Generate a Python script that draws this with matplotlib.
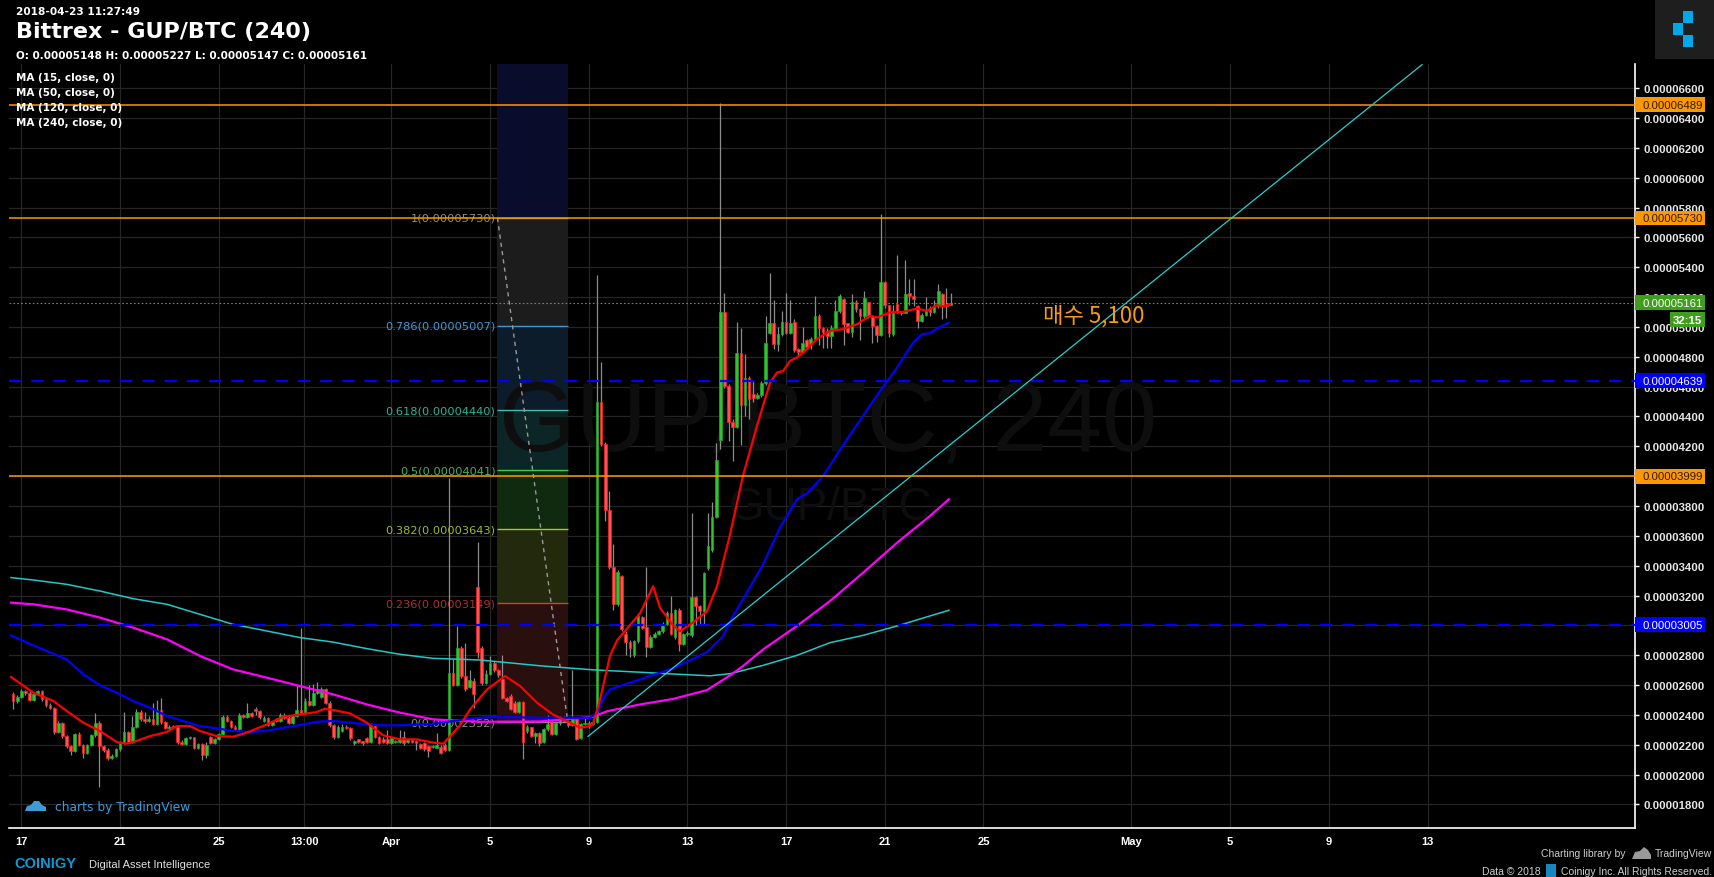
import numpy as np
import matplotlib
matplotlib.use("Agg")
import matplotlib.pyplot as plt
from matplotlib.patches import Rectangle, Polygon
from matplotlib.ticker import FuncFormatter

W, H = 1715, 878

# ---- data: prices in satoshi, time in days after Mar 17 00:00, 4h candles ----
first_candle = -1 / 3

opens = [2542, 2493, 2520, 2558, 2550, 2502, 2538, 2558, 2504, 2469,
         2448, 2288, 2348, 2258, 2191, 2158, 2270, 2200, 2147, 2196,
         2263, 2348, 2191, 2165, 2113, 2124, 2169, 2214, 2287, 2218,
         2321, 2422, 2370, 2359, 2375, 2337, 2433, 2352, 2314, 2320,
         2319, 2218, 2203, 2247, 2250, 2180, 2203, 2129, 2254, 2214,
         2236, 2270, 2388, 2359, 2321, 2303, 2397, 2388, 2410, 2442,
         2426, 2360, 2379, 2332, 2372, 2359, 2401, 2381, 2348, 2392,
         2433, 2415, 2495, 2469, 2549, 2522, 2571, 2482, 2334, 2254,
         2290, 2321, 2312, 2210, 2236, 2222, 2245, 2218, 2326, 2252,
         2240, 2240, 2214, 2218, 2218, 2252, 2218, 2236, 2225, 2207,
         2209, 2191, 2186, 2180, 2187, 2200, 2165, 2683, 2603, 2851,
         2661, 2587, 2629, 3255, 2850, 2616, 2672, 2750, 2700, 2643,
         2515, 2527, 2482, 2419, 2488, 2290, 2316, 2258, 2276, 2218,
         2303, 2354, 2272, 2343, 2388, 2357, 2330, 2370, 2248, 2336,
         2345, 2340, 2352, 4494, 4218, 3775, 3392, 3140, 3332, 2945,
         2889, 2800, 2894, 3055, 2990, 2853, 2925, 2944, 2961, 3009,
         3081, 2920, 3105, 2877, 2940, 2935, 3189, 3128, 3093, 3385,
         3505, 3729, 4242, 5100, 4606, 4363, 4332, 4828, 4475, 4661,
         4549, 4526, 4542, 4623, 4962, 5025, 4884, 4951, 5036, 4962,
         5036, 4851, 4833, 4911, 4884, 4918, 5074, 4996, 4975, 4940,
         4996, 5108, 5186, 5023, 4967, 5164, 5123, 5070, 5164, 5074,
         5003, 4947, 5298, 5146, 4951, 5152, 5103, 5096, 5230, 5204,
         5142, 5041, 5079, 5130, 5101, 5141, 5218, 5148, 5148]

highs = [2553, 2535, 2575, 2565, 2560, 2550, 2570, 2565, 2510, 2480,
         2455, 2360, 2355, 2265, 2200, 2280, 2285, 2205, 2205, 2275,
         2415, 2360, 2200, 2175, 2140, 2180, 2225, 2420, 2295, 2395,
         2440, 2430, 2420, 2390, 2480, 2500, 2513, 2360, 2330, 2335,
         2325, 2230, 2255, 2260, 2255, 2210, 2210, 2215, 2260, 2245,
         2280, 2400, 2400, 2365, 2330, 2410, 2405, 2480, 2420, 2450,
         2430, 2395, 2385, 2360, 2380, 2410, 2410, 2390, 2400, 2598,
         2980, 2510, 2600, 2610, 2620, 2590, 2580, 2490, 2340, 2330,
         2340, 2335, 2318, 2232, 2240, 2228, 2250, 2345, 2340, 2260,
         2250, 2300, 2255, 2232, 2300, 2290, 2245, 2242, 2230, 2212,
         2215, 2195, 2200, 2280, 2195, 2210, 3990, 2773, 2996, 2860,
         2884, 2700, 2650, 3560, 2860, 2700, 2795, 2760, 2710, 2800,
         2520, 2540, 2490, 2495, 2495, 2330, 2320, 2285, 2285, 2310,
         2400, 2360, 2350, 2395, 2395, 2365, 2700, 2375, 2345, 2380,
         2360, 2370, 5347, 4764, 4230, 3900, 3548, 3370, 3340, 2960,
         2900, 2905, 3080, 3065, 3390, 2935, 2955, 2970, 3020, 3095,
         3200, 3110, 3115, 2950, 2960, 3751, 3200, 3135, 3355, 3750,
         3830, 4220, 6500, 5230, 4620, 4380, 5030, 4990, 4820, 4670,
         4640, 4560, 4640, 5070, 5360, 5180, 5000, 5110, 5230, 5180,
         5050, 4860, 5000, 4920, 4930, 5205, 5085, 5000, 4990, 5010,
         5180, 5220, 5195, 5028, 5220, 5180, 5130, 5240, 5170, 5080,
         5010, 5760, 5305, 5150, 5150, 5480, 5110, 5450, 5320, 5320,
         5150, 5090, 5200, 5140, 5180, 5290, 5230, 5260, 5227]

lows = [2437, 2480, 2510, 2530, 2490, 2495, 2530, 2495, 2455, 2440,
        2275, 2280, 2245, 2180, 2130, 2150, 2190, 2110, 2140, 2190,
        2255, 1915, 2150, 2100, 2105, 2115, 2160, 2205, 2210, 2210,
        2315, 2360, 2345, 2350, 2330, 2330, 2340, 2305, 2300, 2310,
        2205, 2195, 2195, 2240, 2170, 2172, 2100, 2110, 2205, 2208,
        2230, 2265, 2350, 2310, 2295, 2295, 2380, 2380, 2385, 2400,
        2375, 2350, 2325, 2325, 2350, 2350, 2375, 2340, 2340, 2385,
        2405, 2405, 2460, 2460, 2540, 2515, 2475, 2320, 2240, 2245,
        2285, 2305, 2235, 2195, 2210, 2200, 2210, 2210, 2245, 2205,
        2210, 2205, 2205, 2210, 2210, 2200, 2210, 2212, 2165, 2170,
        2160, 2120, 2180, 2175, 2140, 2158, 2160, 2595, 2595, 2650,
        2560, 2580, 2448, 2780, 2600, 2610, 2665, 2690, 2655, 2505,
        2485, 2430, 2410, 2412, 2102, 2280, 2250, 2210, 2190, 2210,
        2295, 2265, 2265, 2335, 2350, 2320, 2325, 2230, 2240, 2330,
        2310, 2335, 2345, 4200, 3700, 3380, 3100, 3130, 2960, 2800,
        2790, 2790, 2880, 2975, 2790, 2845, 2915, 2935, 2950, 3000,
        2935, 2910, 2830, 2870, 2930, 2925, 3000, 3000, 3000, 3370,
        3490, 3720, 4180, 4590, 4236, 4100, 4320, 4210, 4400, 4380,
        4500, 4515, 4530, 4610, 4950, 4850, 4840, 4940, 4950, 4950,
        4830, 4810, 4825, 4850, 4850, 4905, 4880, 4860, 4860, 4860,
        4985, 5095, 4880, 4960, 4930, 5100, 4910, 5060, 5060, 4890,
        4900, 4940, 5130, 4930, 4940, 5095, 5080, 5090, 5150, 5140,
        4990, 5030, 5070, 5070, 5090, 5130, 5050, 5060, 5147]

closes = [2493, 2520, 2558, 2550, 2502, 2538, 2558, 2504, 2469, 2448,
          2288, 2348, 2258, 2191, 2158, 2270, 2200, 2147, 2196, 2263,
          2348, 2191, 2165, 2113, 2124, 2169, 2214, 2287, 2218, 2321,
          2422, 2370, 2359, 2375, 2337, 2433, 2352, 2314, 2320, 2319,
          2218, 2203, 2247, 2250, 2180, 2203, 2129, 2200, 2214, 2236,
          2270, 2388, 2359, 2321, 2303, 2397, 2388, 2410, 2393, 2426,
          2388, 2379, 2332, 2352, 2359, 2401, 2381, 2348, 2392, 2433,
          2415, 2495, 2469, 2549, 2576, 2571, 2482, 2334, 2254, 2321,
          2321, 2312, 2243, 2225, 2218, 2214, 2218, 2332, 2252, 2214,
          2218, 2214, 2247, 2225, 2240, 2212, 2236, 2220, 2214, 2180,
          2173, 2158, 2191, 2200, 2147, 2165, 2683, 2603, 2851, 2661,
          2576, 2636, 2540, 2821, 2616, 2672, 2750, 2700, 2665, 2515,
          2493, 2437, 2419, 2488, 2220, 2316, 2258, 2276, 2213, 2303,
          2336, 2272, 2343, 2388, 2357, 2330, 2370, 2240, 2336, 2345,
          2340, 2352, 4494, 4218, 3775, 3392, 3140, 3356, 2978, 2889,
          2848, 2894, 3064, 2985, 2853, 2925, 2944, 2961, 3009, 3081,
          2944, 3105, 2877, 2940, 2945, 3189, 3128, 3093, 3349, 3531,
          3727, 4106, 5100, 4606, 4362, 4332, 4828, 4475, 4661, 4520,
          4526, 4542, 4623, 4895, 5025, 4884, 4951, 5036, 4962, 5025,
          4846, 4833, 4889, 4866, 4918, 5074, 4996, 4967, 4940, 4996,
          5108, 5208, 5018, 4967, 5164, 5123, 5070, 5197, 5074, 5003,
          4947, 5298, 5146, 4958, 5108, 5103, 5096, 5219, 5204, 5190,
          5041, 5079, 5105, 5101, 5141, 5240, 5141, 5137, 5161]

# moving averages (day, price)
ma15_x = [-0.42, 0.49, 1.30, 1.84, 2.51, 3.19, 3.87, 4.27, 4.54, 5.22, 5.89, 6.30,
          6.84, 7.24, 7.92, 8.59, 9.14, 9.95, 10.62, 11.30, 11.97, 12.31, 12.65,
          13.32, 14.00, 14.67, 15.35, 16.03, 16.71, 17.11, 17.78, 18.19, 18.88,
          19.61, 20.22, 20.90, 21.55, 22.24, 22.65, 23.05, 23.17, 23.46, 23.86,
          24.15, 25.08, 25.61, 25.89, 26.42, 26.70, 27.23, 27.79, 28.20, 28.73,
          29.25, 29.82, 30.35, 30.63, 30.88, 31.16, 31.44, 31.69, 32.25, 32.78,
          33.31, 33.87, 34.40, 34.69, 35.21, 35.74, 36.31, 36.71, 37.12, 37.36, 37.64]
ma15_y = [2654, 2549, 2493, 2426, 2348, 2292, 2218, 2207, 2218, 2258, 2285, 2325,
          2325, 2292, 2258, 2254, 2281, 2336, 2388, 2403, 2419, 2442, 2432,
          2410, 2348, 2263, 2236, 2236, 2214, 2207, 2330, 2437, 2571,
          2660, 2593, 2482, 2403, 2348, 2314, 2325, 2336, 2504, 2795,
          2900, 3081, 3262, 3117, 3000, 2960, 3020, 3094, 3262, 3610,
          4001, 4337, 4627, 4694, 4705, 4772, 4795, 4828, 4918, 4974,
          4985, 5018, 5074, 5063, 5097, 5101, 5123, 5108, 5146, 5137, 5152]

ma50_x = [-0.42, 0.49, 1.84, 2.51, 3.19, 3.87, 4.53, 5.22, 5.91, 6.55, 7.24, 7.93,
          8.58, 9.27, 9.96, 10.61, 11.30, 11.99, 12.63, 13.32, 14.01, 14.66, 15.35,
          16.69, 18.19, 19.00, 19.81, 20.90, 22.24, 23.05, 23.34, 23.58, 23.86,
          25.08, 26.42, 27.79, 28.44, 28.73, 29.41, 30.07, 30.75, 31.44, 31.89,
          32.50, 33.47, 34.12, 34.81, 35.50, 36.15, 36.51, 36.83, 37.12, 37.60]
ma50_y = [2933, 2866, 2772, 2672, 2598, 2549, 2493, 2448, 2392, 2359, 2325, 2310,
          2292, 2285, 2294, 2314, 2332, 2354, 2359, 2348, 2336, 2330, 2330,
          2340, 2375, 2385, 2385, 2381, 2381, 2381, 2415, 2504, 2571,
          2638, 2712, 2820, 2926, 3029, 3219, 3409, 3655, 3845, 3890,
          4001, 4247, 4404, 4571, 4728, 4895, 4951, 4958, 4989, 5029]

ma120_x = [-0.42, 0.49, 1.84, 3.19, 4.53, 5.91, 7.24, 8.58, 9.96, 11.30, 12.63,
           14.01, 15.35, 16.69, 18.59, 21.03, 23.17, 23.74, 25.08, 26.42, 27.79,
           28.73, 29.25, 30.07, 31.44, 32.78, 34.12, 35.50, 36.83, 37.60]
ma120_y = [3152, 3141, 3107, 3052, 2985, 2906, 2795, 2705, 2649, 2593, 2538,
           2470, 2415, 2370, 2354, 2356, 2387, 2424, 2470, 2507, 2566,
           2665, 2727, 2839, 2996, 3163, 3353, 3554, 3733, 3845]

ma240_x = [-0.42, 0.49, 1.84, 3.19, 4.53, 5.91, 7.24, 8.58, 9.96, 11.30, 12.63,
           14.01, 15.35, 16.69, 18.59, 21.03, 23.17, 25.08, 26.42, 27.92, 28.73,
           30.07, 31.44, 32.78, 34.12, 35.50, 36.83, 37.60]
ma240_y = [3320, 3304, 3275, 3230, 3179, 3141, 3074, 3007, 2962, 2918, 2888,
           2844, 2806, 2779, 2768, 2729, 2702, 2686, 2674, 2662, 2676,
           2732, 2799, 2884, 2933, 2996, 3063, 3101]

fib_names = ['1', '0.786', '0.618', '0.5', '0.382', '0.236', '0']
fib_prices = [5730, 5007, 4440, 4041, 3643, 3149, 2352]
fib_line_colors = ['#8a8a8a', '#3d9ad6', '#3cc0ae', '#3ecf3e', '#a8c828', '#d23c3c', '#8a8a8a']
fib_text_colors = ['#8c8c8c', '#3d9ad6', '#2eb398', '#4caf50', '#a3b82a', '#a83232', '#8c8c8c']
fib_band_colors = ['#1c1c1c', '#0c1c2a', '#0c2526', '#102a10', '#23290c', '#2a0f0f']
fib_top_color = '#0a0c2c'
fib_start, fib_end = 19.30, 22.15

orange_levels = [6489, 5730, 3999]
blue_levels = [4639, 3005]
last_price = closes[-1]

trend_x = [22.97, 56.78]
trend_y = [2256, 6758]

xtick_pos = [0, 4, 8, 11.47, 15, 19, 23, 27, 31, 35, 39, 45, 49, 53, 57]
xtick_lab = ['17', '21', '25', '13:00', 'Apr', '5', '9', '13', '17', '21', '25',
             'May', '5', '9', '13']
ytick_vals = list(range(1800, 6601, 200))


def fx(px):
    return px / W


def fy(py):
    return 1 - py / H


fig = plt.figure(figsize=(W / 100, H / 100), dpi=100, facecolor='black')
ax = fig.add_axes([fx(9), fy(829), 1626 / W, 764 / H], facecolor='black')
ax.set_xlim(-0.5, 65.41)
ax.set_ylim(1642, 6762)
ytop = 6762

# grid + axes
ax.set_xticks(xtick_pos)
ax.set_xticklabels(xtick_lab)
ax.set_yticks(ytick_vals)
ax.yaxis.tick_right()
ax.yaxis.set_major_formatter(FuncFormatter(lambda v, p: f'{v / 1e8:.8f}'))
ax.grid(True, color='#262626', lw=0.9)
ax.set_axisbelow(True)
for s in ['left', 'top']:
    ax.spines[s].set_visible(False)
for s in ['right', 'bottom']:
    ax.spines[s].set_color('white')
    ax.spines[s].set_linewidth(1.2)
ax.tick_params(axis='y', colors='white', length=3, width=1, pad=3)
ax.tick_params(axis='x', colors='white', length=0, pad=6)
for lbl in ax.get_yticklabels():
    lbl.set_fontfamily('Liberation Sans')
    lbl.set_fontweight('bold')
    lbl.set_fontsize(8.2)
    lbl.set_color('#e6e6e6')
for lbl in ax.get_xticklabels():
    lbl.set_fontfamily('Liberation Sans')
    lbl.set_fontweight('bold')
    lbl.set_fontsize(8)

# fib retracement
ax.add_patch(Rectangle((fib_start, fib_prices[0]), fib_end - fib_start, ytop - fib_prices[0],
                       facecolor=fib_top_color, edgecolor='none', zorder=1))
for k in range(len(fib_prices) - 1):
    hi, lo = fib_prices[k], fib_prices[k + 1]
    ax.add_patch(Rectangle((fib_start, lo), fib_end - fib_start, hi - lo,
                           facecolor=fib_band_colors[k], edgecolor='none', zorder=1))
for name, p, lc, tc in zip(fib_names, fib_prices, fib_line_colors, fib_text_colors):
    ax.hlines(p, fib_start, fib_end, color=lc, lw=1, zorder=3)
    ax.text(fib_start - 0.08, p, f'{name}({p / 1e8:.8f})', color=tc, fontsize=8.2,
            ha='right', va='center', zorder=3)
ax.plot([fib_start, fib_end], [fib_prices[0], fib_prices[-1]], color='#9a9a9a',
        lw=1, ls=(0, (3, 3)), zorder=3)

# watermark
ax.text(0.5037, 0.496, 'GUP/BTC, 240', transform=ax.transAxes, fontsize=71,
        family='Liberation Sans', color='#0e0e0e', ha='center', va='baseline', zorder=1.5)
ax.text(0.505, 0.4045, 'GUP/BTC', transform=ax.transAxes, fontsize=33,
        family='Liberation Sans', color='#0e0e0e', ha='center', va='baseline', zorder=1.5)

# candles
n = len(closes)
xs = first_candle + np.arange(n) / 6
o = np.array(opens)
c = np.array(closes)
up = c >= o
ax.vlines(xs, lows, highs, color='#8c8c8c', lw=0.9, zorder=4)
body_lo = np.minimum(o, c)
body_h = np.maximum(np.abs(c - o), 7)
ax.bar(xs[up], body_h[up], bottom=body_lo[up], width=0.11, color='#2fc42f',
       edgecolor='#22a622', lw=0.5, zorder=5)
ax.bar(xs[~up], body_h[~up], bottom=body_lo[~up], width=0.11, color='#ff5252',
       edgecolor='#ff1f1f', lw=0.5, zorder=5)

# moving averages
ax.plot(ma240_x, ma240_y, color='#22c8c8', lw=1.1, zorder=6)
ax.plot(ma120_x, ma120_y, color='#ff00ff', lw=1.6, zorder=6)
ax.plot(ma50_x, ma50_y, color='#0000ff', lw=1.6, zorder=6)
ax.plot(ma15_x, ma15_y, color='#ff0000', lw=1.6, zorder=6)

# horizontal lines
for v in orange_levels:
    ax.axhline(v, color='#ff9800', lw=1.1, zorder=6.5)
for v in blue_levels:
    ax.axhline(v, color='#0000ff', lw=1.6, ls=(0, (5.5, 4.5)), zorder=6.5)
ax.axhline(last_price, color='#5a9e1e', lw=0.8, ls=(0, (1.5, 2)), zorder=6.4)

# trendline
ax.plot(trend_x, trend_y, color='#26d0d0', lw=0.9, zorder=7)

ax.text(41.41, 5079, '매수 5,100', fontsize=16, color='#f59b14',
        family=['Noto Sans CJK KR', 'DejaVu Sans'], ha='left', va='center', zorder=8)


# price boxes on the right axis
def price_box(v, face, tc, label=None, x0=1.0, x1=1.0431):
    tr = ax.get_yaxis_transform()
    ax.add_patch(Rectangle((x0, v - 50), x1 - x0, 100, transform=tr, facecolor=face,
                           edgecolor='none', clip_on=False, zorder=10))
    if label is None:
        ax.text(1.0049, v, f'{v / 1e8:.8f}', transform=tr, color=tc, fontsize=8.2,
                family='Liberation Sans', ha='left', va='center', clip_on=False, zorder=11)
    else:
        ax.text((x0 + x1) / 2, v, label, transform=tr, color=tc, fontsize=8.2,
                family='Liberation Sans', fontweight='bold', ha='center', va='center',
                clip_on=False, zorder=11)


for v in orange_levels:
    price_box(v, '#ff9800', '#2a1c00')
for v in blue_levels:
    price_box(v, '#0000ff', 'white')
price_box(last_price, '#3f9f1c', 'white')
price_box(5049, '#3f9f1c', 'white', label='32:15', x0=1.0215)

# header
fig.text(fx(16), fy(12), '2018-04-23 11:27:49', color='white', fontsize=7.6,
         fontweight='bold', va='center')
fig.text(fx(16), fy(32), 'Bittrex - GUP/BTC (240)', color='white', fontsize=16,
         fontweight='bold', va='center')
fig.text(fx(16), fy(56),
         f'O: {opens[-1] / 1e8:.8f} H: {highs[-1] / 1e8:.8f} '
         f'L: {lows[-1] / 1e8:.8f} C: {closes[-1] / 1e8:.8f}',
         color='white', fontsize=7.5, fontweight='bold', va='center')
for txt, yy in zip(['MA (15, close, 0)', 'MA (50, close, 0)',
                    'MA (120, close, 0)', 'MA (240, close, 0)'], [78, 93, 108, 123]):
    fig.text(fx(16), fy(yy), txt, color='white', fontsize=7.5, fontweight='bold',
             va='center', zorder=12)

# tradingview logo top right
fig.patches.append(Rectangle((fx(1655), fy(60)), 60 / W, 60 / H,
                             transform=fig.transFigure, facecolor='#1e1e1e', edgecolor='none'))
for (sx, sy) in [(1683, 24), (1673, 36), (1683, 48)]:
    fig.patches.append(Rectangle((fx(sx), fy(sy)), 10 / W, 12 / H,
                                 transform=fig.transFigure, facecolor='#00a8e8',
                                 edgecolor='none'))

# charts by TradingView
cloud = [(25, 812), (27, 807), (31, 806), (34, 802), (39, 802), (42, 806), (46, 808), (46, 812)]
fig.patches.append(Polygon([(fx(a), fy(b)) for a, b in cloud], closed=True,
                           transform=fig.transFigure, facecolor='#3d9bd6', edgecolor='none'))
fig.text(fx(55), fy(808), 'charts by TradingView', color='#3d9bd6', fontsize=8.8, va='center')

# footer
fig.text(fx(14), fy(864), 'COINIGY', color='#0e9ad7', fontsize=10.5,
         fontweight='bold', family='Liberation Sans', va='center')
fig.text(fx(89), fy(865), 'Digital Asset Intelligence', color='#e0e0e0', fontsize=8,
         family='Liberation Sans', va='center')
fig.text(fx(1626), fy(854), 'Charting library by', color='#cfcfcf', fontsize=7.5,
         family='Liberation Sans', ha='right', va='center')
cloud2 = [(1632, 860), (1635, 853), (1640, 852), (1644, 848), (1648, 851), (1651, 856), (1651, 860)]
fig.patches.append(Polygon([(fx(a), fy(b)) for a, b in cloud2], closed=True,
                           transform=fig.transFigure, facecolor='#9a9a9a', edgecolor='none'))
fig.text(fx(1712), fy(854), 'TradingView', color='#cfcfcf', fontsize=7.5,
         family='Liberation Sans', ha='right', va='center')
fig.text(fx(1541), fy(872), 'Data © 2018', color='#cfcfcf', fontsize=7.5,
         family='Liberation Sans', ha='right', va='center')
fig.patches.append(Rectangle((fx(1546), fy(878)), 10 / W, 13 / H,
                             transform=fig.transFigure, facecolor='#1a86c0', edgecolor='none'))
fig.text(fx(1712), fy(872), 'Coinigy Inc. All Rights Reserved.', color='#cfcfcf',
         fontsize=7.5, family='Liberation Sans', ha='right', va='center')

fig.savefig('out.png', dpi=100, facecolor='black')
